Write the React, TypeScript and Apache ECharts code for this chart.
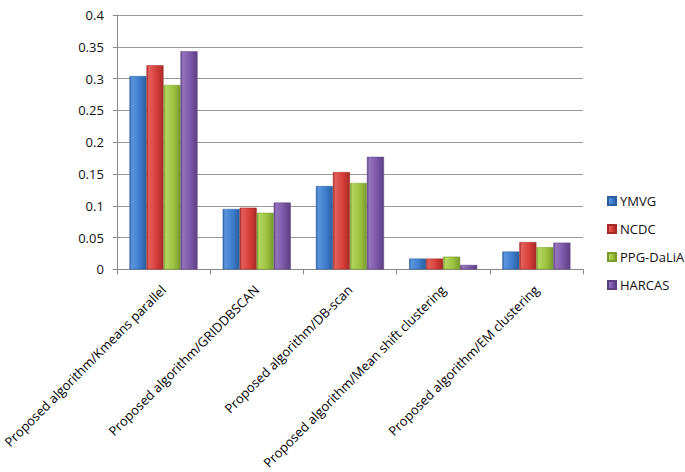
import React, { useEffect, useRef } from "react";
import * as echarts from "echarts";

const categories = [
  "Proposed algorithm/Kmeans parallel",
  "Proposed algorithm/GRIDDBSCAN",
  "Proposed algorithm/DB-scan",
  "Proposed algorithm/Mean shift clustering",
  "Proposed algorithm/EM clustering",
];
const seriesNames = ["YMVG", "NCDC", "PPG-DaLiA", "HARCAS"];
const ymvg = [0.304, 0.095, 0.131, 0.017, 0.028];
const ncdc = [0.321, 0.097, 0.153, 0.017, 0.043];
const ppg = [0.29, 0.089, 0.136, 0.02, 0.035];
const harcas = [0.343, 0.105, 0.177, 0.007, 0.042];
const seriesData = [ymvg, ncdc, ppg, harcas];

const palette = [
  { base: "#3d7ccc", light: "#5b95de", dark: "#2b5e9e" },
  { base: "#d63d38", light: "#e4605b", dark: "#a62a26" },
  { base: "#9cc23f", light: "#b3d65e", dark: "#779a2b" },
  { base: "#7b56a7", light: "#9574bd", dark: "#5c3f82" },
];

const FONT = "'Open Sans', sans-serif";

export default function App() {
  const ref = useRef<HTMLDivElement>(null);
  useEffect(() => {
    if (!ref.current) return;
    const chart = echarts.init(ref.current, undefined, { renderer: "svg" });
    chart.setOption({
      animation: false,
      backgroundColor: "#ffffff",
      textStyle: { fontFamily: FONT },
      grid: { left: 116, right: 102, top: 15, bottom: 202, containLabel: false },
      legend: {
        orient: "vertical",
        left: 607,
        top: 193,
        padding: 0,
        itemWidth: 8,
        itemHeight: 8,
        itemGap: 12,
        icon: "rect",
        data: seriesNames,
        textStyle: { fontFamily: FONT, fontSize: 13, color: "#111111", lineHeight: 16, padding: [0, 0, 0, -1] },
      },
      xAxis: {
        type: "category",
        data: categories,
        axisLine: { lineStyle: { color: "#888888", width: 1 } },
        axisTick: { show: true, length: 5, lineStyle: { color: "#888888" } },
        axisLabel: {
          interval: 0,
          rotate: 45,
          margin: 18,
          fontFamily: FONT,
          fontSize: 13,
          color: "#000000",
        },
      },
      yAxis: {
        type: "value",
        min: 0,
        max: 0.4,
        interval: 0.05,
        axisLine: { show: true, lineStyle: { color: "#888888", width: 1 } },
        axisTick: { show: true, length: 4, lineStyle: { color: "#888888" } },
        splitLine: { show: true, lineStyle: { color: "#999999", width: 1 } },
        axisLabel: {
          margin: 13,
          fontFamily: FONT,
          fontSize: 13,
          color: "#111111",
        },
      },
      series: seriesNames.map((name, i) => ({
        name,
        type: "bar",
        data: seriesData[i],
        barGap: "0%",
        barCategoryGap: "27%",
        itemStyle: {
          color: new echarts.graphic.LinearGradient(0, 0, 1, 0, [
            { offset: 0, color: palette[i].dark },
            { offset: 0.12, color: palette[i].light },
            { offset: 0.6, color: palette[i].base },
            { offset: 1, color: palette[i].dark },
          ]),
          borderColor: palette[i].dark,
          borderWidth: 0.5,
        },
      })),
    });
    return () => chart.dispose();
  }, []);
  return <div ref={ref} style={{ width: 685, height: 472, position: "absolute", left: 0, top: 0 }} />;
}
